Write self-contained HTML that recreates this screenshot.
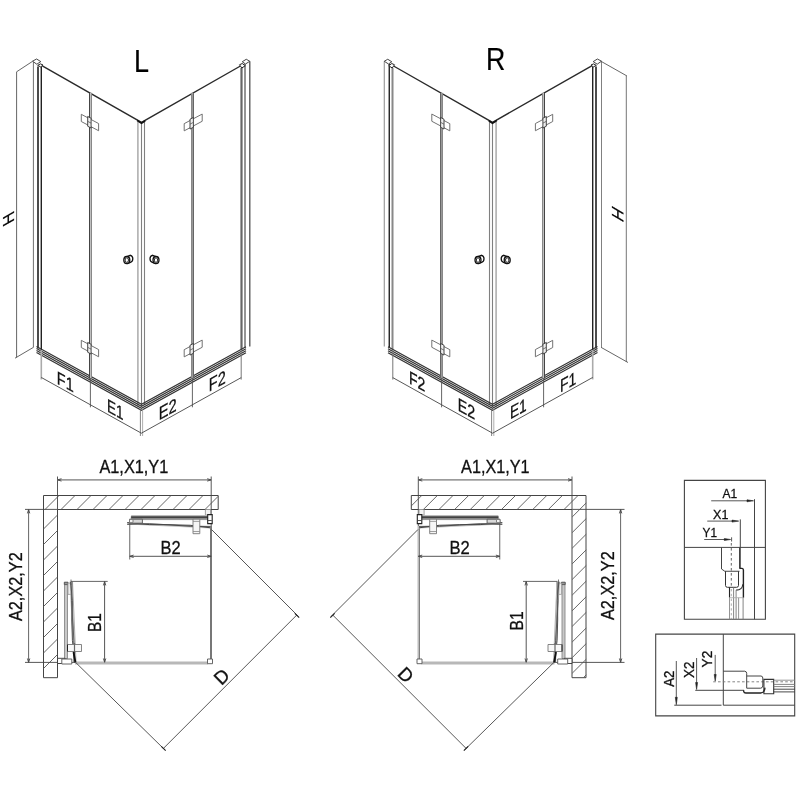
<!DOCTYPE html>
<html><head><meta charset="utf-8"><style>
html,body{margin:0;padding:0;background:#fff;}
svg{display:block;will-change:transform;}
text{font-family:"Liberation Sans",sans-serif;}
</style></head><body>
<svg width="800" height="800" viewBox="0 0 800 800">
<rect width="800" height="800" fill="#fff"/>
<g><polyline points="42.30,65.86 141.50,122.40 240.00,66.26" stroke="#2a2a2a" stroke-width="1.4" fill="none" />
<line x1="137.90" y1="122.00" x2="137.90" y2="405.80" stroke="#aaa" stroke-width="1.5" />
<line x1="141.50" y1="123.00" x2="141.50" y2="406.80" stroke="#808080" stroke-width="1.1" />
<line x1="144.50" y1="121.00" x2="144.50" y2="404.80" stroke="#808080" stroke-width="1.1" />
<polyline points="137.20,120.60 141.50,123.20 145.20,120.80" stroke="#111" stroke-width="1.7" fill="none" />
<line x1="33.40" y1="61.30" x2="33.40" y2="347.30" stroke="#707070" stroke-width="1" />
<line x1="38.00" y1="66.50" x2="38.00" y2="348.60" stroke="#111" stroke-width="1.5" />
<line x1="41.30" y1="66.50" x2="41.30" y2="350.00" stroke="#222" stroke-width="1.4" />
<polygon points="32.50,61.20 36.60,59.00 40.80,61.60 36.80,64.20" stroke="#333" stroke-width="0.9" fill="#fff" />
<polygon points="37.70,65.40 40.40,63.90 43.00,65.00 40.70,66.90" stroke="#222" stroke-width="1" fill="#fff" />
<line x1="241.50" y1="68.00" x2="241.50" y2="349.50" stroke="#666" stroke-width="2.2" />
<line x1="245.00" y1="64.00" x2="245.00" y2="348.00" stroke="#707070" stroke-width="1.5" />
<line x1="249.80" y1="61.30" x2="249.80" y2="346.50" stroke="#505050" stroke-width="1.3" />
<polygon points="242.25,61.75 246.25,59.25 249.75,61.25 245.50,64.00" stroke="#333" stroke-width="0.9" fill="#fff" />
<polygon points="239.50,64.75 242.25,63.50 245.25,65.75 241.75,68.00" stroke="#222" stroke-width="1" fill="#fff" />
<polyline points="36.50,346.45 141.50,404.20 246.00,346.72" stroke="#333" stroke-width="1.2" fill="none" />
<polyline points="36.50,348.45 141.50,406.20 246.00,348.72" stroke="#333" stroke-width="1.2" fill="none" />
<polyline points="36.50,350.45 141.50,408.20 246.00,350.72" stroke="#333" stroke-width="1.2" fill="none" />
<polyline points="36.50,352.45 141.50,410.20 246.00,352.72" stroke="#333" stroke-width="1.2" fill="none" />
<line x1="89.50" y1="92.82" x2="89.50" y2="378.64" stroke="#444" stroke-width="1" />
<line x1="90.50" y1="92.82" x2="90.50" y2="378.64" stroke="#c0c0c0" stroke-width="1" />
<line x1="91.50" y1="92.82" x2="91.50" y2="378.64" stroke="#888" stroke-width="1" />
<polygon points="81.30,114.32 98.60,123.54 98.60,130.74 81.30,121.52" stroke="#6a6a6a" stroke-width="0.95" fill="#fff" />
<polygon points="87.70,116.43 91.10,118.24 91.10,128.04 87.70,126.23" stroke="#333" stroke-width="0.9" fill="#eee" />
<line x1="87.70" y1="121.33" x2="91.10" y2="123.14" stroke="#555" stroke-width="0.8" />
<polygon points="81.30,340.34 98.60,349.56 98.60,356.76 81.30,347.54" stroke="#6a6a6a" stroke-width="0.95" fill="#fff" />
<polygon points="87.70,342.45 91.10,344.27 91.10,354.07 87.70,352.25" stroke="#333" stroke-width="0.9" fill="#eee" />
<line x1="87.70" y1="347.35" x2="91.10" y2="349.17" stroke="#555" stroke-width="0.8" />
<line x1="191.50" y1="92.87" x2="191.50" y2="378.69" stroke="#888" stroke-width="1" />
<line x1="192.50" y1="92.87" x2="192.50" y2="378.69" stroke="#999" stroke-width="1" />
<line x1="193.50" y1="92.87" x2="193.50" y2="378.69" stroke="#666" stroke-width="1" />
<polygon points="184.20,123.65 202.20,114.06 202.20,121.26 184.20,130.85" stroke="#6a6a6a" stroke-width="0.95" fill="#fff" />
<polygon points="190.00,119.26 193.40,117.45 193.40,127.25 190.00,129.06" stroke="#333" stroke-width="0.9" fill="#eee" />
<line x1="190.00" y1="124.16" x2="193.40" y2="122.35" stroke="#555" stroke-width="0.8" />
<polygon points="184.20,349.67 202.20,340.08 202.20,347.28 184.20,356.87" stroke="#6a6a6a" stroke-width="0.95" fill="#fff" />
<polygon points="190.00,345.28 193.40,343.47 193.40,353.27 190.00,355.08" stroke="#333" stroke-width="0.9" fill="#eee" />
<line x1="190.00" y1="350.18" x2="193.40" y2="348.37" stroke="#555" stroke-width="0.8" /></g>
<g transform="translate(634.0,0) scale(-1,1)"><polyline points="42.30,65.86 141.50,122.40 240.00,66.26" stroke="#2a2a2a" stroke-width="1.4" fill="none" />
<line x1="137.90" y1="122.00" x2="137.90" y2="405.80" stroke="#aaa" stroke-width="1.5" />
<line x1="141.50" y1="123.00" x2="141.50" y2="406.80" stroke="#808080" stroke-width="1.1" />
<line x1="144.50" y1="121.00" x2="144.50" y2="404.80" stroke="#808080" stroke-width="1.1" />
<polyline points="137.20,120.60 141.50,123.20 145.20,120.80" stroke="#111" stroke-width="1.7" fill="none" />
<line x1="32.50" y1="61.30" x2="32.50" y2="347.30" stroke="#808080" stroke-width="1" />
<line x1="38.00" y1="66.50" x2="38.00" y2="348.60" stroke="#111" stroke-width="1.5" />
<line x1="41.30" y1="66.50" x2="41.30" y2="350.00" stroke="#222" stroke-width="1.4" />
<polygon points="32.50,61.20 36.60,59.00 40.80,61.60 36.80,64.20" stroke="#333" stroke-width="0.9" fill="#fff" />
<polygon points="37.70,65.40 40.40,63.90 43.00,65.00 40.70,66.90" stroke="#222" stroke-width="1" fill="#fff" />
<line x1="241.50" y1="68.00" x2="241.50" y2="349.50" stroke="#888" stroke-width="2.0" />
<line x1="244.75" y1="64.00" x2="244.75" y2="348.00" stroke="#111" stroke-width="1.3" />
<line x1="249.75" y1="61.30" x2="249.75" y2="346.50" stroke="#888" stroke-width="1.0" />
<polygon points="242.25,61.75 246.25,59.25 249.75,61.25 245.50,64.00" stroke="#333" stroke-width="0.9" fill="#fff" />
<polygon points="239.50,64.75 242.25,63.50 245.25,65.75 241.75,68.00" stroke="#222" stroke-width="1" fill="#fff" />
<polyline points="36.50,346.45 141.50,404.20 246.00,346.72" stroke="#333" stroke-width="1.2" fill="none" />
<polyline points="36.50,348.45 141.50,406.20 246.00,348.72" stroke="#333" stroke-width="1.2" fill="none" />
<polyline points="36.50,350.45 141.50,408.20 246.00,350.72" stroke="#333" stroke-width="1.2" fill="none" />
<polyline points="36.50,352.45 141.50,410.20 246.00,352.72" stroke="#333" stroke-width="1.2" fill="none" />
<line x1="89.50" y1="92.82" x2="89.50" y2="378.64" stroke="#444" stroke-width="1" />
<line x1="90.50" y1="92.82" x2="90.50" y2="378.64" stroke="#c0c0c0" stroke-width="1" />
<line x1="91.50" y1="92.82" x2="91.50" y2="378.64" stroke="#888" stroke-width="1" />
<polygon points="81.30,114.32 98.60,123.54 98.60,130.74 81.30,121.52" stroke="#6a6a6a" stroke-width="0.95" fill="#fff" />
<polygon points="87.70,116.43 91.10,118.24 91.10,128.04 87.70,126.23" stroke="#333" stroke-width="0.9" fill="#eee" />
<line x1="87.70" y1="121.33" x2="91.10" y2="123.14" stroke="#555" stroke-width="0.8" />
<polygon points="81.30,340.34 98.60,349.56 98.60,356.76 81.30,347.54" stroke="#6a6a6a" stroke-width="0.95" fill="#fff" />
<polygon points="87.70,342.45 91.10,344.27 91.10,354.07 87.70,352.25" stroke="#333" stroke-width="0.9" fill="#eee" />
<line x1="87.70" y1="347.35" x2="91.10" y2="349.17" stroke="#555" stroke-width="0.8" />
<line x1="191.50" y1="92.87" x2="191.50" y2="378.69" stroke="#888" stroke-width="1" />
<line x1="192.50" y1="92.87" x2="192.50" y2="378.69" stroke="#999" stroke-width="1" />
<line x1="193.50" y1="92.87" x2="193.50" y2="378.69" stroke="#666" stroke-width="1" />
<polygon points="184.20,123.65 202.20,114.06 202.20,121.26 184.20,130.85" stroke="#6a6a6a" stroke-width="0.95" fill="#fff" />
<polygon points="190.00,119.26 193.40,117.45 193.40,127.25 190.00,129.06" stroke="#333" stroke-width="0.9" fill="#eee" />
<line x1="190.00" y1="124.16" x2="193.40" y2="122.35" stroke="#555" stroke-width="0.8" />
<polygon points="184.20,349.67 202.20,340.08 202.20,347.28 184.20,356.87" stroke="#6a6a6a" stroke-width="0.95" fill="#fff" />
<polygon points="190.00,345.28 193.40,343.47 193.40,353.27 190.00,355.08" stroke="#333" stroke-width="0.9" fill="#eee" />
<line x1="190.00" y1="350.18" x2="193.40" y2="348.37" stroke="#555" stroke-width="0.8" /></g>
<g transform="translate(128.3,260.5) scale(1,1)"><path d="M -1.5,-3.9 L 2.2,-5.2 A 3,3.6 0 0 1 2.2,1.8 L -1.5,3.1" fill="#fff" stroke="#111" stroke-width="1.3"/><ellipse cx="-1.5" cy="-0.4" rx="3.0" ry="3.6" fill="#fff" stroke="#111" stroke-width="1.3"/><ellipse cx="-1.5" cy="-0.4" rx="1.7" ry="2.3" fill="#fff" stroke="#222" stroke-width="1"/></g>
<g transform="translate(154.5,260.5) scale(-1,1)"><path d="M -1.5,-3.9 L 2.2,-5.2 A 3,3.6 0 0 1 2.2,1.8 L -1.5,3.1" fill="#fff" stroke="#111" stroke-width="1.3"/><ellipse cx="-1.5" cy="-0.4" rx="3.0" ry="3.6" fill="#fff" stroke="#111" stroke-width="1.3"/><ellipse cx="-1.5" cy="-0.4" rx="1.7" ry="2.3" fill="#fff" stroke="#222" stroke-width="1"/></g>
<g transform="translate(479.5,260.5) scale(1,1)"><path d="M -1.5,-3.9 L 2.2,-5.2 A 3,3.6 0 0 1 2.2,1.8 L -1.5,3.1" fill="#fff" stroke="#111" stroke-width="1.3"/><ellipse cx="-1.5" cy="-0.4" rx="3.0" ry="3.6" fill="#fff" stroke="#111" stroke-width="1.3"/><ellipse cx="-1.5" cy="-0.4" rx="1.7" ry="2.3" fill="#fff" stroke="#222" stroke-width="1"/></g>
<g transform="translate(505.7,260.5) scale(-1,1)"><path d="M -1.5,-3.9 L 2.2,-5.2 A 3,3.6 0 0 1 2.2,1.8 L -1.5,3.1" fill="#fff" stroke="#111" stroke-width="1.3"/><ellipse cx="-1.5" cy="-0.4" rx="3.0" ry="3.6" fill="#fff" stroke="#111" stroke-width="1.3"/><ellipse cx="-1.5" cy="-0.4" rx="1.7" ry="2.3" fill="#fff" stroke="#222" stroke-width="1"/></g>
<line x1="41.30" y1="350.00" x2="41.30" y2="379.44" stroke="#aaa" stroke-width="1.6" />
<line x1="241.20" y1="350.00" x2="241.20" y2="379.61" stroke="#777" stroke-width="1" />
<line x1="90.40" y1="378.00" x2="90.40" y2="407.29" stroke="#555" stroke-width="0.9" />
<line x1="192.40" y1="378.00" x2="192.40" y2="407.29" stroke="#555" stroke-width="0.9" />
<line x1="140.40" y1="409.00" x2="140.40" y2="436.00" stroke="#666" stroke-width="0.8" />
<line x1="142.60" y1="409.00" x2="142.60" y2="436.00" stroke="#999" stroke-width="0.8" />
<polyline points="41.30,377.44 141.40,433.20 241.20,377.61" stroke="#444" stroke-width="0.9" fill="none" />
<line x1="392.80" y1="350.00" x2="392.80" y2="379.61" stroke="#777" stroke-width="1" />
<line x1="592.70" y1="350.00" x2="592.70" y2="379.44" stroke="#aaa" stroke-width="1.6" />
<line x1="441.60" y1="378.00" x2="441.60" y2="407.29" stroke="#555" stroke-width="0.9" />
<line x1="543.60" y1="378.00" x2="543.60" y2="407.29" stroke="#555" stroke-width="0.9" />
<line x1="491.60" y1="409.00" x2="491.60" y2="436.00" stroke="#666" stroke-width="0.8" />
<line x1="493.80" y1="409.00" x2="493.80" y2="436.00" stroke="#999" stroke-width="0.8" />
<polyline points="392.80,377.61 492.60,433.20 592.70,377.44" stroke="#444" stroke-width="0.9" fill="none" />
<line x1="16.60" y1="71.80" x2="16.60" y2="357.50" stroke="#555" stroke-width="0.9" />
<line x1="16.60" y1="71.80" x2="32.60" y2="61.30" stroke="#555" stroke-width="0.9" />
<line x1="15.00" y1="358.20" x2="33.50" y2="347.30" stroke="#555" stroke-width="0.9" />
<line x1="626.30" y1="76.00" x2="626.30" y2="362.00" stroke="#666" stroke-width="0.9" />
<line x1="601.00" y1="61.30" x2="627.00" y2="76.00" stroke="#555" stroke-width="0.9" />
<line x1="601.00" y1="347.30" x2="628.00" y2="362.50" stroke="#555" stroke-width="0.9" />
<g font-family="Liberation Sans, sans-serif">
<text font-size="31.75" fill="#000" stroke="#000" stroke-width="0.2" transform="matrix(0.8493,0.0000,0.0000,1.0000,133.94,71.78)">L</text>
<text font-size="30.66" fill="#000" stroke="#000" stroke-width="0.2" transform="matrix(0.8717,0.0000,0.0000,1.0000,485.96,69.50)">R</text>
<text font-size="18.25" fill="#111" stroke="#111" stroke-width="0.3" transform="matrix(0.7942,0.4368,0.0000,1.0000,56.84,383.39)">F1</text>
<text font-size="18.25" fill="#111" stroke="#111" stroke-width="0.3" transform="matrix(0.7416,0.4079,0.0000,1.0000,106.94,411.20)">E1</text>
<text font-size="18.69" fill="#111" stroke="#111" stroke-width="0.3" transform="matrix(0.7856,-0.4321,0.0000,1.0000,158.83,420.45)">E2</text>
<text font-size="18.69" fill="#111" stroke="#111" stroke-width="0.3" transform="matrix(0.7756,-0.4266,0.0000,1.0000,208.84,392.06)">F2</text>
<text font-size="18.25" fill="#111" stroke="#111" stroke-width="0.3" transform="matrix(0.7677,0.4223,0.0000,1.0000,408.88,383.15)">F2</text>
<text font-size="18.25" fill="#111" stroke="#111" stroke-width="0.3" transform="matrix(0.7793,0.4286,0.0000,1.0000,457.86,410.16)">E2</text>
<text font-size="18.25" fill="#111" stroke="#111" stroke-width="0.3" transform="matrix(0.7541,-0.4148,0.0000,1.0000,509.90,419.58)">E1</text>
<text font-size="18.25" fill="#111" stroke="#111" stroke-width="0.3" transform="matrix(0.7677,-0.4223,0.0000,1.0000,559.88,392.65)">F1</text>
<text font-size="15.91" fill="#000" stroke="#000" stroke-width="0.25" transform="matrix(0.0000,-1.0100,1.0000,-0.5700,13.90,221.38)">H</text>
<text font-size="16.42" fill="#000" stroke="#000" stroke-width="0.25" transform="matrix(0.0000,0.9786,-1.0000,-0.5700,612.48,205.01)">H</text>
</g>
<g><polygon points="43.50,495.50 218.20,495.50 218.20,509.50 57.50,509.50 57.50,677.70 43.50,677.70" stroke="#444" stroke-width="1" fill="none" />
<line x1="57.50" y1="476.50" x2="57.50" y2="509.50" stroke="#444" stroke-width="0.9" />
<line x1="211.20" y1="476.50" x2="211.20" y2="526.00" stroke="#444" stroke-width="0.9" />
<line x1="57.50" y1="479.90" x2="211.20" y2="479.90" stroke="#999" stroke-width="1.4" />
<line x1="57.50" y1="479.90" x2="211.20" y2="479.90" stroke="#666" stroke-width="0.5" />
<polyline points="61.50,478.70 57.60,479.90 61.50,481.10" stroke="#444" stroke-width="0.9" fill="none" />
<polyline points="207.20,478.70 211.10,479.90 207.20,481.10" stroke="#444" stroke-width="0.9" fill="none" />
<line x1="57.50" y1="662.40" x2="75.00" y2="662.40" stroke="#444" stroke-width="0.9" />
<line x1="211.00" y1="526.00" x2="211.00" y2="660.00" stroke="#777" stroke-width="2" />
<line x1="75.00" y1="662.90" x2="208.00" y2="662.90" stroke="#b8b8b8" stroke-width="3" />
<polygon points="207.50,659.00 212.50,659.00 212.50,663.70 207.50,663.70" stroke="#555" stroke-width="0.9" fill="#fff" />
<polygon points="205.40,509.50 210.50,509.50 210.50,515.10 205.40,515.10" stroke="#999" stroke-width="0.9" fill="#f4f4f4" />
<line x1="131.20" y1="515.60" x2="208.20" y2="515.60" stroke="#bbb" stroke-width="1" />
<polygon points="131.20,516.40 208.20,516.40 208.20,519.60 131.20,519.60" stroke="#666" stroke-width="0.5" fill="#8a8a8a" />
<line x1="131.20" y1="517.20" x2="208.20" y2="517.20" stroke="#2a2a2a" stroke-width="1.2" />
<polyline points="127.20,523.40 210.50,527.40" stroke="#c4c4c4" stroke-width="2.4" fill="none" />
<path d="M127.2,522.6 Q150,525.5 170,524.8 Q190,524.2 210.5,527.8" stroke="#333" stroke-width="0.9" fill="none" />
<path d="M127.2,524.4 Q150,522.8 170,524.9 Q190,527 210.5,526.4" stroke="#444" stroke-width="0.9" fill="none" />
<polygon points="129.50,519.20 142.40,519.20 142.40,523.20 129.50,523.20" stroke="#555" stroke-width="0.9" fill="#d8d8d8" />
<polygon points="129.50,519.60 133.00,519.60 133.00,522.40 129.50,522.40" stroke="#777" stroke-width="0.9" fill="#fff" />
<polygon points="193.00,519.20 199.80,519.20 199.80,533.70 193.00,533.70" stroke="#777" stroke-width="0.9" fill="#f6f6f6" />
<line x1="193.00" y1="521.40" x2="199.80" y2="521.40" stroke="#888" stroke-width="0.8" />
<line x1="193.00" y1="531.50" x2="199.80" y2="531.50" stroke="#888" stroke-width="0.8" />
<polygon points="207.70,514.60 212.20,514.60 212.20,523.60 207.70,523.60" stroke="#222" stroke-width="1.1" fill="#fff" />
<line x1="207.90" y1="520.50" x2="211.80" y2="520.50" stroke="#444" stroke-width="0.9" />
<line x1="129.75" y1="523.50" x2="129.75" y2="559.50" stroke="#555" stroke-width="0.9" />
<line x1="129.75" y1="556.30" x2="211.20" y2="556.30" stroke="#555" stroke-width="1" />
<polyline points="133.60,555.10 129.80,556.30 133.60,557.50" stroke="#444" stroke-width="0.9" fill="none" />
<polyline points="207.30,555.10 211.10,556.30 207.30,557.50" stroke="#444" stroke-width="0.9" fill="none" />
<polygon points="64.50,582.50 67.50,582.50 67.50,658.50 64.50,658.50" stroke="#888" stroke-width="0.9" fill="#c8c8c8" />
<polygon points="64.30,582.20 68.00,582.20 68.00,584.60 64.30,584.60" stroke="#555" stroke-width="0.9" fill="#999" />
<polygon points="68.00,583.10 71.40,583.10 71.40,594.40 68.00,594.40" stroke="#999" stroke-width="0.8" fill="#f0f0f0" />
<polyline points="70.80,581.50 74.50,662.00" stroke="#aaa" stroke-width="2.2" fill="none" />
<path d="M70.6,582 Q73.6,600 71.8,620 Q71.4,640 75,662" stroke="#444" stroke-width="0.9" fill="none" />
<path d="M72.4,582 Q70.6,600 72.6,620 Q74.6,640 74,662" stroke="#555" stroke-width="0.9" fill="none" />
<polyline points="72.50,581.50 76.00,662.00" stroke="#999" stroke-width="0.8" fill="none" />
<line x1="71.00" y1="579.50" x2="71.00" y2="585.00" stroke="#555" stroke-width="0.8" />
<polygon points="67.50,644.50 81.50,644.50 81.50,651.50 67.50,651.50" stroke="#777" stroke-width="0.9" fill="#f8f8f8" />
<line x1="67.50" y1="644.50" x2="67.50" y2="651.50" stroke="#222" stroke-width="1" />
<line x1="74.50" y1="643.00" x2="74.50" y2="653.00" stroke="#666" stroke-width="1.2" />
<polygon points="57.50,658.30 65.00,658.30 65.00,663.50 57.50,663.50" stroke="#333" stroke-width="0.9" fill="#fff" />
<polygon points="61.80,659.00 71.80,659.00 71.80,664.00 61.80,664.00" stroke="#555" stroke-width="0.9" fill="#fff" />
<polyline points="73.50,652.00 75.50,662.50" stroke="#111" stroke-width="1.8" fill="none" />
<line x1="211.50" y1="529.50" x2="298.50" y2="616.50" stroke="#444" stroke-width="0.9" />
<line x1="75.50" y1="662.30" x2="165.00" y2="750.00" stroke="#444" stroke-width="0.9" />
<line x1="163.30" y1="748.50" x2="296.80" y2="615.00" stroke="#444" stroke-width="0.9" />
<line x1="161.30" y1="746.30" x2="165.70" y2="750.70" stroke="#222" stroke-width="1.1" />
<line x1="294.80" y1="613.30" x2="299.20" y2="617.70" stroke="#222" stroke-width="1.1" /></g>
<g transform="translate(629.5,0) scale(-1,1)"><polygon points="43.50,495.50 218.20,495.50 218.20,509.50 57.50,509.50 57.50,677.70 43.50,677.70" stroke="#444" stroke-width="1" fill="none" />
<line x1="57.50" y1="476.50" x2="57.50" y2="509.50" stroke="#444" stroke-width="0.9" />
<line x1="211.20" y1="476.50" x2="211.20" y2="526.00" stroke="#444" stroke-width="0.9" />
<line x1="57.50" y1="479.90" x2="211.20" y2="479.90" stroke="#999" stroke-width="1.4" />
<line x1="57.50" y1="479.90" x2="211.20" y2="479.90" stroke="#666" stroke-width="0.5" />
<polyline points="61.50,478.70 57.60,479.90 61.50,481.10" stroke="#444" stroke-width="0.9" fill="none" />
<polyline points="207.20,478.70 211.10,479.90 207.20,481.10" stroke="#444" stroke-width="0.9" fill="none" />
<line x1="57.50" y1="662.40" x2="75.00" y2="662.40" stroke="#444" stroke-width="0.9" />
<line x1="211.00" y1="526.00" x2="211.00" y2="660.00" stroke="#bbb" stroke-width="2" />
<line x1="210.00" y1="526.00" x2="210.00" y2="660.00" stroke="#808080" stroke-width="1" />
<line x1="75.00" y1="662.90" x2="208.00" y2="662.90" stroke="#b8b8b8" stroke-width="3" />
<polygon points="207.50,659.00 212.50,659.00 212.50,663.70 207.50,663.70" stroke="#555" stroke-width="0.9" fill="#fff" />
<polygon points="205.40,509.50 210.50,509.50 210.50,515.10 205.40,515.10" stroke="#999" stroke-width="0.9" fill="#f4f4f4" />
<line x1="131.20" y1="515.60" x2="208.20" y2="515.60" stroke="#bbb" stroke-width="1" />
<polygon points="131.20,516.40 208.20,516.40 208.20,519.60 131.20,519.60" stroke="#666" stroke-width="0.5" fill="#8a8a8a" />
<line x1="131.20" y1="517.20" x2="208.20" y2="517.20" stroke="#2a2a2a" stroke-width="1.2" />
<polyline points="127.20,523.40 210.50,527.40" stroke="#c4c4c4" stroke-width="2.4" fill="none" />
<path d="M127.2,522.6 Q150,525.5 170,524.8 Q190,524.2 210.5,527.8" stroke="#333" stroke-width="0.9" fill="none" />
<path d="M127.2,524.4 Q150,522.8 170,524.9 Q190,527 210.5,526.4" stroke="#444" stroke-width="0.9" fill="none" />
<polygon points="129.50,519.20 142.40,519.20 142.40,523.20 129.50,523.20" stroke="#555" stroke-width="0.9" fill="#d8d8d8" />
<polygon points="129.50,519.60 133.00,519.60 133.00,522.40 129.50,522.40" stroke="#777" stroke-width="0.9" fill="#fff" />
<polygon points="193.00,519.20 199.80,519.20 199.80,533.70 193.00,533.70" stroke="#777" stroke-width="0.9" fill="#f6f6f6" />
<line x1="193.00" y1="521.40" x2="199.80" y2="521.40" stroke="#888" stroke-width="0.8" />
<line x1="193.00" y1="531.50" x2="199.80" y2="531.50" stroke="#888" stroke-width="0.8" />
<polygon points="207.70,514.60 212.20,514.60 212.20,523.60 207.70,523.60" stroke="#222" stroke-width="1.1" fill="#fff" />
<line x1="207.90" y1="520.50" x2="211.80" y2="520.50" stroke="#444" stroke-width="0.9" />
<line x1="129.75" y1="523.50" x2="129.75" y2="559.50" stroke="#555" stroke-width="0.9" />
<line x1="129.75" y1="556.30" x2="211.20" y2="556.30" stroke="#555" stroke-width="1" />
<polyline points="133.60,555.10 129.80,556.30 133.60,557.50" stroke="#444" stroke-width="0.9" fill="none" />
<polyline points="207.30,555.10 211.10,556.30 207.30,557.50" stroke="#444" stroke-width="0.9" fill="none" />
<polygon points="64.50,582.50 67.50,582.50 67.50,658.50 64.50,658.50" stroke="#888" stroke-width="0.9" fill="#c8c8c8" />
<polygon points="64.30,582.20 68.00,582.20 68.00,584.60 64.30,584.60" stroke="#555" stroke-width="0.9" fill="#999" />
<polygon points="68.00,583.10 71.40,583.10 71.40,594.40 68.00,594.40" stroke="#999" stroke-width="0.8" fill="#f0f0f0" />
<polyline points="70.80,581.50 74.50,662.00" stroke="#aaa" stroke-width="2.2" fill="none" />
<path d="M70.6,582 Q73.6,600 71.8,620 Q71.4,640 75,662" stroke="#444" stroke-width="0.9" fill="none" />
<path d="M72.4,582 Q70.6,600 72.6,620 Q74.6,640 74,662" stroke="#555" stroke-width="0.9" fill="none" />
<polyline points="72.50,581.50 76.00,662.00" stroke="#999" stroke-width="0.8" fill="none" />
<line x1="71.00" y1="579.50" x2="71.00" y2="585.00" stroke="#555" stroke-width="0.8" />
<polygon points="67.50,644.50 81.50,644.50 81.50,651.50 67.50,651.50" stroke="#777" stroke-width="0.9" fill="#f8f8f8" />
<line x1="67.50" y1="644.50" x2="67.50" y2="651.50" stroke="#222" stroke-width="1" />
<line x1="74.50" y1="643.00" x2="74.50" y2="653.00" stroke="#666" stroke-width="1.2" />
<polygon points="57.50,658.30 65.00,658.30 65.00,663.50 57.50,663.50" stroke="#333" stroke-width="0.9" fill="#fff" />
<polygon points="61.80,659.00 71.80,659.00 71.80,664.00 61.80,664.00" stroke="#555" stroke-width="0.9" fill="#fff" />
<polyline points="73.50,652.00 75.50,662.50" stroke="#111" stroke-width="1.8" fill="none" />
<line x1="211.50" y1="529.50" x2="298.50" y2="616.50" stroke="#444" stroke-width="0.9" />
<line x1="75.50" y1="662.30" x2="165.00" y2="750.00" stroke="#444" stroke-width="0.9" />
<line x1="163.30" y1="748.50" x2="296.80" y2="615.00" stroke="#444" stroke-width="0.9" />
<line x1="161.30" y1="746.30" x2="165.70" y2="750.70" stroke="#222" stroke-width="1.1" />
<line x1="294.80" y1="613.30" x2="299.20" y2="617.70" stroke="#222" stroke-width="1.1" /></g>
<line x1="45.00" y1="509.50" x2="59.00" y2="495.50" stroke="#555" stroke-width="0.9" />
<line x1="61.00" y1="509.50" x2="75.00" y2="495.50" stroke="#555" stroke-width="0.9" />
<line x1="77.00" y1="509.50" x2="91.00" y2="495.50" stroke="#555" stroke-width="0.9" />
<line x1="93.00" y1="509.50" x2="107.00" y2="495.50" stroke="#555" stroke-width="0.9" />
<line x1="109.00" y1="509.50" x2="123.00" y2="495.50" stroke="#555" stroke-width="0.9" />
<line x1="125.00" y1="509.50" x2="139.00" y2="495.50" stroke="#555" stroke-width="0.9" />
<line x1="141.00" y1="509.50" x2="155.00" y2="495.50" stroke="#555" stroke-width="0.9" />
<line x1="157.00" y1="509.50" x2="171.00" y2="495.50" stroke="#555" stroke-width="0.9" />
<line x1="173.00" y1="509.50" x2="187.00" y2="495.50" stroke="#555" stroke-width="0.9" />
<line x1="189.00" y1="509.50" x2="203.00" y2="495.50" stroke="#555" stroke-width="0.9" />
<line x1="205.00" y1="509.50" x2="218.20" y2="496.30" stroke="#555" stroke-width="0.9" />
<line x1="43.50" y1="529.00" x2="57.50" y2="515.00" stroke="#555" stroke-width="0.9" />
<line x1="43.50" y1="544.50" x2="57.50" y2="530.50" stroke="#555" stroke-width="0.9" />
<line x1="43.50" y1="560.00" x2="57.50" y2="546.00" stroke="#555" stroke-width="0.9" />
<line x1="43.50" y1="575.50" x2="57.50" y2="561.50" stroke="#555" stroke-width="0.9" />
<line x1="43.50" y1="591.00" x2="57.50" y2="577.00" stroke="#555" stroke-width="0.9" />
<line x1="43.50" y1="606.50" x2="57.50" y2="592.50" stroke="#555" stroke-width="0.9" />
<line x1="43.50" y1="622.00" x2="57.50" y2="608.00" stroke="#555" stroke-width="0.9" />
<line x1="43.50" y1="637.50" x2="57.50" y2="623.50" stroke="#555" stroke-width="0.9" />
<line x1="43.50" y1="653.00" x2="57.50" y2="639.00" stroke="#555" stroke-width="0.9" />
<line x1="43.50" y1="668.50" x2="57.50" y2="654.50" stroke="#555" stroke-width="0.9" />
<line x1="25.00" y1="509.40" x2="57.50" y2="509.40" stroke="#444" stroke-width="0.9" />
<line x1="25.00" y1="662.40" x2="57.50" y2="662.40" stroke="#444" stroke-width="0.9" />
<line x1="28.60" y1="509.50" x2="28.60" y2="662.40" stroke="#555" stroke-width="0.9" />
<polyline points="27.40,513.40 28.60,509.60 29.80,513.40" stroke="#444" stroke-width="0.9" fill="none" />
<polyline points="27.40,658.50 28.60,662.30 29.80,658.50" stroke="#444" stroke-width="0.9" fill="none" />
<line x1="572.20" y1="509.40" x2="624.50" y2="509.40" stroke="#444" stroke-width="0.9" />
<line x1="572.20" y1="662.40" x2="624.50" y2="662.40" stroke="#444" stroke-width="0.9" />
<line x1="620.60" y1="509.50" x2="620.60" y2="662.40" stroke="#555" stroke-width="0.9" />
<polyline points="619.40,513.40 620.60,509.60 621.80,513.40" stroke="#444" stroke-width="0.9" fill="none" />
<polyline points="619.40,658.50 620.60,662.30 621.80,658.50" stroke="#444" stroke-width="0.9" fill="none" />
<line x1="71.00" y1="581.40" x2="107.70" y2="581.40" stroke="#555" stroke-width="0.9" />
<line x1="104.60" y1="581.50" x2="104.60" y2="662.30" stroke="#555" stroke-width="1" />
<polyline points="103.40,585.40 104.60,581.60 105.80,585.40" stroke="#444" stroke-width="0.9" fill="none" />
<polyline points="103.40,658.50 104.60,662.20 105.80,658.50" stroke="#444" stroke-width="0.9" fill="none" />
<line x1="523.00" y1="581.40" x2="557.50" y2="581.40" stroke="#555" stroke-width="0.9" />
<line x1="526.20" y1="581.50" x2="526.20" y2="662.30" stroke="#555" stroke-width="1" />
<polyline points="525.00,585.40 526.20,581.60 527.40,585.40" stroke="#444" stroke-width="0.9" fill="none" />
<polyline points="525.00,658.50 526.20,662.20 527.40,658.50" stroke="#444" stroke-width="0.9" fill="none" />
<clipPath id="wallR"><polygon points="411.3,495.4 586.2,495.4 586.2,677.6 572.2,677.6 572.2,509.4 411.3,509.4"/></clipPath>
<g clip-path="url(#wallR)">
<line x1="426.19" y1="475.40" x2="203.99" y2="697.60" stroke="#555" stroke-width="0.9" />
<line x1="441.82" y1="475.40" x2="219.62" y2="697.60" stroke="#555" stroke-width="0.9" />
<line x1="457.45" y1="475.40" x2="235.25" y2="697.60" stroke="#555" stroke-width="0.9" />
<line x1="473.08" y1="475.40" x2="250.88" y2="697.60" stroke="#555" stroke-width="0.9" />
<line x1="488.71" y1="475.40" x2="266.51" y2="697.60" stroke="#555" stroke-width="0.9" />
<line x1="504.34" y1="475.40" x2="282.14" y2="697.60" stroke="#555" stroke-width="0.9" />
<line x1="519.97" y1="475.40" x2="297.77" y2="697.60" stroke="#555" stroke-width="0.9" />
<line x1="535.60" y1="475.40" x2="313.40" y2="697.60" stroke="#555" stroke-width="0.9" />
<line x1="551.23" y1="475.40" x2="329.03" y2="697.60" stroke="#555" stroke-width="0.9" />
<line x1="566.86" y1="475.40" x2="344.66" y2="697.60" stroke="#555" stroke-width="0.9" />
<line x1="582.49" y1="475.40" x2="360.29" y2="697.60" stroke="#555" stroke-width="0.9" />
<line x1="598.12" y1="475.40" x2="375.92" y2="697.60" stroke="#555" stroke-width="0.9" />
<line x1="613.75" y1="475.40" x2="391.55" y2="697.60" stroke="#555" stroke-width="0.9" />
<line x1="629.38" y1="475.40" x2="407.18" y2="697.60" stroke="#555" stroke-width="0.9" />
<line x1="645.01" y1="475.40" x2="422.81" y2="697.60" stroke="#555" stroke-width="0.9" />
<line x1="660.64" y1="475.40" x2="438.44" y2="697.60" stroke="#555" stroke-width="0.9" />
<line x1="676.27" y1="475.40" x2="454.07" y2="697.60" stroke="#555" stroke-width="0.9" />
<line x1="691.90" y1="475.40" x2="469.70" y2="697.60" stroke="#555" stroke-width="0.9" />
<line x1="707.53" y1="475.40" x2="485.33" y2="697.60" stroke="#555" stroke-width="0.9" />
<line x1="723.16" y1="475.40" x2="500.96" y2="697.60" stroke="#555" stroke-width="0.9" />
<line x1="738.79" y1="475.40" x2="516.59" y2="697.60" stroke="#555" stroke-width="0.9" />
<line x1="754.42" y1="475.40" x2="532.22" y2="697.60" stroke="#555" stroke-width="0.9" />
<line x1="770.05" y1="475.40" x2="547.85" y2="697.60" stroke="#555" stroke-width="0.9" />
<line x1="785.68" y1="475.40" x2="563.48" y2="697.60" stroke="#555" stroke-width="0.9" />
<line x1="801.31" y1="475.40" x2="579.11" y2="697.60" stroke="#555" stroke-width="0.9" />
<line x1="816.94" y1="475.40" x2="594.74" y2="697.60" stroke="#555" stroke-width="0.9" />
</g>
<g font-family="Liberation Sans, sans-serif">
<text font-size="18.69" fill="#111" stroke="#111" stroke-width="0.3" transform="matrix(0.8727,0.0000,0.0000,1.0000,99.42,472.80)">A1,X1,Y1</text>
<text font-size="18.69" fill="#111" stroke="#111" stroke-width="0.3" transform="matrix(0.8675,0.0000,0.0000,1.0000,461.12,472.80)">A1,X1,Y1</text>
<text font-size="18.98" fill="#111" stroke="#111" stroke-width="0.3" transform="matrix(0.8701,0.0000,0.0000,1.0000,160.43,553.50)">B2</text>
<text font-size="18.98" fill="#111" stroke="#111" stroke-width="0.3" transform="matrix(0.8774,0.0000,0.0000,1.0000,449.39,553.50)">B2</text>
<text font-size="18.61" fill="#111" stroke="#111" stroke-width="0.3" transform="matrix(0.0000,-0.8256,1.0000,0.0000,101.47,632.00)">B1</text>
<text font-size="18.61" fill="#111" stroke="#111" stroke-width="0.3" transform="matrix(0.0000,-0.8379,1.0000,0.0000,522.98,630.50)">B1</text>
<text font-size="18.25" fill="#111" stroke="#111" stroke-width="0.3" transform="matrix(0.0000,-0.8936,1.0000,0.0000,21.50,621.08)">A2,X2,Y2</text>
<text font-size="18.25" fill="#111" stroke="#111" stroke-width="0.3" transform="matrix(0.0000,-0.8936,1.0000,0.0000,613.50,620.08)">A2,X2,Y2</text>
<text font-size="18.69" fill="#111" stroke="#111" stroke-width="0.3" transform="matrix(0.6996,-0.6996,0.7071,0.7071,221.49,685.96)">D</text>
<text font-size="18.69" fill="#111" stroke="#111" stroke-width="0.3" transform="matrix(0.6996,0.6996,-0.7071,0.7071,396.44,674.69)">D</text>
</g>
<polygon points="684.40,480.40 765.40,480.40 765.40,619.30 684.40,619.30" stroke="#444" stroke-width="1.1" fill="none" />
<line x1="684.40" y1="547.40" x2="765.40" y2="547.40" stroke="#444" stroke-width="1" />
<line x1="754.50" y1="499.20" x2="754.50" y2="619.30" stroke="#444" stroke-width="1" />
<line x1="711.20" y1="500.80" x2="748.00" y2="500.80" stroke="#444" stroke-width="0.9" />
<polygon points="747.00,499.80 753.50,500.80 747.00,501.80" stroke="#222" stroke-width="0.6" fill="#222" />
<line x1="740.30" y1="519.40" x2="740.30" y2="569.00" stroke="#444" stroke-width="1" />
<line x1="707.25" y1="521.10" x2="733.00" y2="521.10" stroke="#444" stroke-width="0.9" />
<polygon points="732.00,520.10 738.70,521.10 732.00,522.10" stroke="#222" stroke-width="0.6" fill="#222" />
<line x1="704.20" y1="539.50" x2="725.00" y2="539.50" stroke="#444" stroke-width="0.9" />
<polygon points="724.30,538.50 730.60,539.50 724.30,540.50" stroke="#222" stroke-width="0.6" fill="#222" />
<line x1="731.60" y1="537.30" x2="731.60" y2="541.50" stroke="#444" stroke-width="0.9" />
<line x1="731.30" y1="543.00" x2="731.30" y2="586.00" stroke="#555" stroke-width="0.9" stroke-dasharray="2.6,2.4"/>
<polyline points="721.50,547.40 721.50,569.00 724.80,571.25 739.50,571.25" stroke="#444" stroke-width="1" fill="none" />
<path d="M725.5,571.25 V585.5 Q725.5,587.3 727.5,587.3 H736.5 Q738.5,587.3 738.5,585.5 V571.25" stroke="#333" stroke-width="1" fill="none" />
<line x1="739.50" y1="547.40" x2="739.50" y2="568.40" stroke="#444" stroke-width="1" />
<path d="M739.5,568.4 H742 Q743.4,568.6 743.4,570 V597.7" stroke="#222" stroke-width="1.4" fill="none" />
<path d="M742.8,584.2 Q742.4,590.1 736.1,590.1" stroke="#333" stroke-width="1.1" fill="none" />
<line x1="736.10" y1="590.10" x2="736.10" y2="619.30" stroke="#777" stroke-width="0.9" />
<line x1="729.50" y1="587.30" x2="729.50" y2="597.70" stroke="#222" stroke-width="1.1" />
<line x1="729.50" y1="597.70" x2="729.50" y2="619.30" stroke="#888" stroke-width="0.9" />
<line x1="733.60" y1="587.30" x2="733.60" y2="619.30" stroke="#777" stroke-width="0.9" />
<line x1="738.60" y1="597.70" x2="738.60" y2="619.30" stroke="#888" stroke-width="0.9" />
<line x1="743.10" y1="597.70" x2="743.10" y2="619.30" stroke="#777" stroke-width="0.9" />
<line x1="731.30" y1="589.00" x2="731.30" y2="619.30" stroke="#999" stroke-width="0.8" stroke-dasharray="2.4,2.4"/>
<line x1="729.50" y1="597.70" x2="743.40" y2="597.70" stroke="#aaa" stroke-width="0.8" />
<polygon points="655.70,634.10 794.70,634.10 794.70,715.90 655.70,715.90" stroke="#444" stroke-width="1.1" fill="none" />
<line x1="723.30" y1="634.10" x2="723.30" y2="705.20" stroke="#444" stroke-width="1" />
<line x1="674.25" y1="705.20" x2="721.50" y2="705.20" stroke="#444" stroke-width="1" />
<line x1="723.30" y1="705.20" x2="794.70" y2="705.20" stroke="#444" stroke-width="1" />
<line x1="676.30" y1="661.00" x2="676.30" y2="698.00" stroke="#444" stroke-width="0.9" />
<polygon points="675.30,697.30 676.30,704.70 677.30,697.30" stroke="#222" stroke-width="0.6" fill="#222" />
<line x1="696.60" y1="658.00" x2="696.60" y2="683.00" stroke="#444" stroke-width="0.9" />
<polygon points="695.60,682.50 696.60,689.50 697.60,682.50" stroke="#222" stroke-width="0.6" fill="#222" />
<line x1="695.25" y1="690.30" x2="744.00" y2="690.30" stroke="#444" stroke-width="1" />
<line x1="715.20" y1="654.90" x2="715.20" y2="675.00" stroke="#444" stroke-width="0.9" />
<polygon points="714.20,674.50 715.20,681.20 716.20,674.50" stroke="#222" stroke-width="0.6" fill="#222" />
<line x1="713.20" y1="681.80" x2="794.70" y2="681.80" stroke="#777" stroke-width="0.9" stroke-dasharray="2.6,2.2"/>
<path d="M723.3,671.2 L744.75,671.2 Q746.7,671.5 746.7,673.3 L746.7,688.2" stroke="#444" stroke-width="1" fill="none" />
<path d="M746.7,676 L761,676 Q762.8,676.2 762.8,678 L762.8,686 Q762.5,688.2 760.5,688.2 L746.7,688.2" stroke="#444" stroke-width="1" fill="none" />
<path d="M743.7,690.3 L743.7,691.5 Q744,693 745.8,693 L760.7,693 Q764.6,692.5 765,687.6" stroke="#222" stroke-width="1.3" fill="none" />
<polygon points="763.90,679.40 773.70,679.40 773.70,693.80 763.90,693.80" stroke="#333" stroke-width="1.1" fill="none" />
<line x1="773.70" y1="680.20" x2="794.70" y2="680.20" stroke="#888" stroke-width="0.9" />
<line x1="773.70" y1="684.40" x2="794.70" y2="684.40" stroke="#777" stroke-width="0.9" />
<line x1="773.70" y1="686.60" x2="794.70" y2="686.60" stroke="#777" stroke-width="0.9" />
<line x1="773.70" y1="689.20" x2="794.70" y2="689.20" stroke="#333" stroke-width="0.9" />
<line x1="773.70" y1="691.90" x2="794.70" y2="691.90" stroke="#333" stroke-width="0.9" />
<g font-family="Liberation Sans, sans-serif">
<text font-size="13.43" fill="#111" stroke="#111" stroke-width="0.3" transform="matrix(0.8948,0.0000,0.0000,1.0000,722.54,498.40)">A1</text>
<text font-size="13.43" fill="#111" stroke="#111" stroke-width="0.3" transform="matrix(0.9364,0.0000,0.0000,1.0000,713.09,518.50)">X1</text>
<text font-size="13.43" fill="#111" stroke="#111" stroke-width="0.3" transform="matrix(0.8779,0.0000,0.0000,1.0000,702.61,536.90)">Y1</text>
<text font-size="14.01" fill="#111" stroke="#111" stroke-width="0.3" transform="matrix(0.0000,-0.9371,1.0000,0.0000,673.80,686.87)">A2</text>
<text font-size="14.01" fill="#111" stroke="#111" stroke-width="0.3" transform="matrix(0.0000,-0.9535,1.0000,0.0000,693.90,677.98)">X2</text>
<text font-size="14.01" fill="#111" stroke="#111" stroke-width="0.3" transform="matrix(0.0000,-0.9784,1.0000,0.0000,712.30,667.44)">Y2</text>
</g>
</svg>
</body></html>
